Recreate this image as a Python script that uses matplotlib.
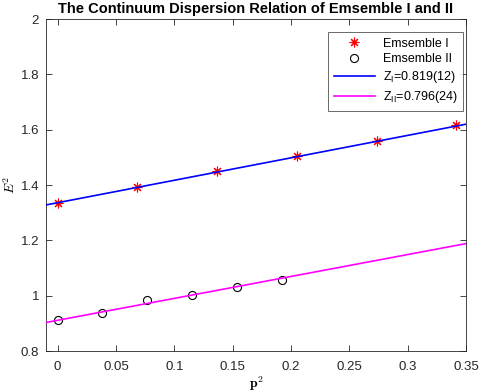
import numpy as np
import matplotlib
matplotlib.use("Agg")
import matplotlib.pyplot as plt

plt.rcParams['font.family'] = ['Liberation Sans', 'DejaVu Sans']
plt.rcParams['mathtext.fontset'] = 'custom'
plt.rcParams['mathtext.rm'] = 'Liberation Sans'
plt.rcParams['mathtext.it'] = 'Liberation Sans:italic'

# Ensemble I data points
p2_ens1 = [0.0, 0.0677, 0.137, 0.205, 0.274, 0.341]
e2_ens1 = [1.336, 1.392, 1.449, 1.505, 1.560, 1.616]

# Ensemble II data points
p2_ens2 = [0.0, 0.0384, 0.0768, 0.1152, 0.1536, 0.192]
e2_ens2 = [0.913, 0.937, 0.983, 1.004, 1.032, 1.057]

# linear fits (intercept, slope)
fit1 = (1.336, 0.811)
fit2 = (0.911, 0.792)

xlim = (-0.01, 0.35)
ylim = (0.8, 2.0)
xticks = [0, 0.05, 0.1, 0.15, 0.2, 0.25, 0.3, 0.35]
yticks = [0.8, 1, 1.2, 1.4, 1.6, 1.8, 2]

fig = plt.figure(figsize=(4.79, 3.92), dpi=100)
ax = fig.add_axes([46 / 479, 1 - 351 / 392, 420 / 479, 332 / 392])

xx = np.array(xlim)
ax.plot(p2_ens1, e2_ens1, linestyle='none', marker=(8, 2, 0), color='#ff0000',
        markersize=7, markeredgewidth=0.8, label='Emsemble I', zorder=3)
ax.plot(p2_ens2, e2_ens2, linestyle='none', marker='o', markerfacecolor='none',
        markeredgecolor='black', markersize=5.8, markeredgewidth=0.8,
        label='Emsemble II', zorder=3)
ax.plot(xx, fit1[0] + fit1[1] * xx, color='#0000ff', linewidth=1.2,
        label=r'Z$_{\rm I}$=0.819(12)', zorder=4)
ax.plot(xx, fit2[0] + fit2[1] * xx, color='#ff00ff', linewidth=1.2,
        label=r'Z$_{\rm II}$=0.796(24)', zorder=4)

ax.set_xlim(*xlim)
ax.set_ylim(*ylim)
ax.set_xticks(xticks)
ax.set_xticklabels(['0', '0.05', '0.1', '0.15', '0.2', '0.25', '0.3', '0.35'])
ax.set_yticks(yticks)
ax.set_yticklabels(['0.8', '1', '1.2', '1.4', '1.6', '1.8', '2'])
ax.tick_params(direction='in', top=True, right=True, length=4, width=0.6,
               labelsize=9.5, colors='#262626')
ax.tick_params(axis='x', pad=7)
ax.tick_params(axis='y', pad=5)
for s in ax.spines.values():
    s.set_linewidth(0.6)
    s.set_color('#262626')

ax.set_title('The Continuum Dispersion Relation of Emsemble I and II',
             fontsize=10.5, fontweight='bold', pad=4)
ax.set_xlabel(r'$\mathbf{p}^2$', math_fontfamily='cm', fontsize=10, labelpad=1)
ax.set_ylabel(r'$E^2$', math_fontfamily='cm', fontsize=10, labelpad=2)

leg = ax.legend(loc='upper right', fontsize=9, frameon=True, fancybox=False,
                edgecolor='#262626', borderpad=0.45, handlelength=3.3,
                handletextpad=0.6, labelspacing=0.3, borderaxespad=0,
                bbox_to_anchor=((463 - 46) / 420, (351 - 32) / 332))
leg.get_frame().set_linewidth(0.6)

fig.savefig('out.png', dpi=100)
